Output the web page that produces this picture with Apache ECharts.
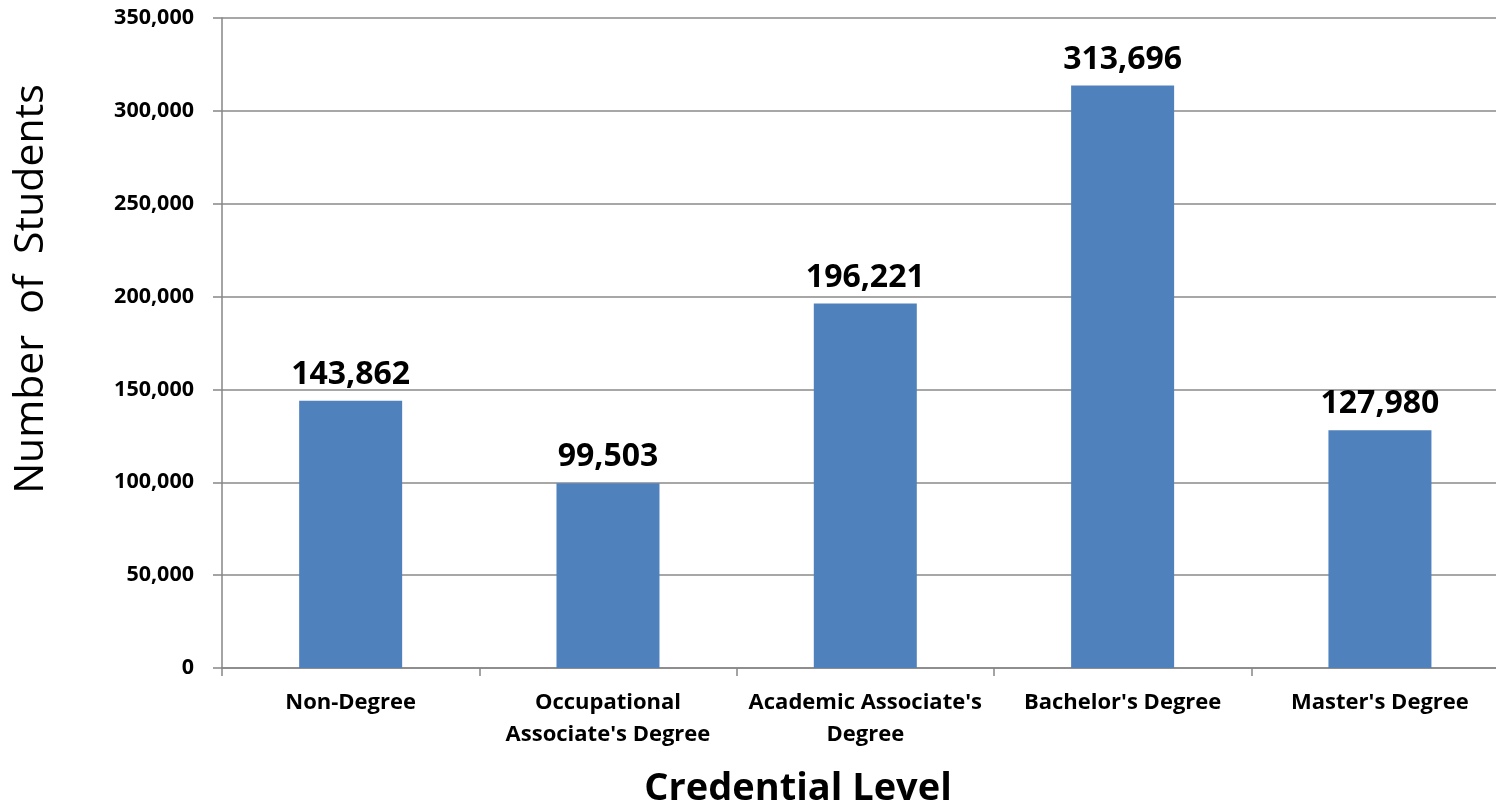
<!DOCTYPE html>
<html>
<head>
<meta charset="utf-8">
<title>Number of Students by Credential Level</title>
<script src="https://cdn.jsdelivr.net/npm/echarts@6/dist/echarts.min.js"></script>
<style>
  html, body { margin: 0; padding: 0; background: #ffffff; }
  #chart { width: 1496px; height: 807px; }
</style>
</head>
<body>
<div id="chart"></div>
<script>
// Credential levels along the x axis
const categories = [
  'Non-Degree',
  'Occupational\nAssociate\'s Degree',
  'Academic Associate\'s\nDegree',
  'Bachelor\'s Degree',
  'Master\'s Degree'
];

// Students per credential level
const students = [143862, 99503, 196221, 313696, 127980];

// Value axis range
const yMin = 0;
const yMax = 350000;
const yStep = 50000;

const FONT = '"Open Sans", "Noto Sans", sans-serif';
const fmt = v => Number(v).toLocaleString('en-US');

const chart = echarts.init(document.getElementById('chart'), null, { renderer: 'canvas' });

chart.setOption({
  backgroundColor: '#ffffff',
  animation: false,
  textStyle: { fontFamily: FONT, color: '#000000' },
  grid: {
    left: 222,
    top: 18,
    bottom: 139,
    right: -12.6,
    containLabel: false,
    outerBoundsMode: 'none'
  },
  xAxis: {
    type: 'category',
    data: categories,
    boundaryGap: true,
    axisLine: { show: true, lineStyle: { color: '#868686', width: 1.5 } },
    axisTick: { show: true, length: 8, alignWithLabel: false, lineStyle: { color: '#868686', width: 1.5 } },
    axisLabel: {
      interval: 0,
      margin: 19,
      fontFamily: FONT,
      fontWeight: 'bold',
      fontSize: 22,
      lineHeight: 32,
      color: '#000000',
      align: 'center'
    },
    splitLine: { show: false }
  },
  yAxis: {
    type: 'value',
    min: yMin,
    max: yMax,
    interval: yStep,
    axisLine: { show: true, lineStyle: { color: '#868686', width: 1.5 } },
    axisTick: { show: true, length: 9, lineStyle: { color: '#868686', width: 1.5 } },
    axisLabel: {
      margin: 28,
      fontFamily: FONT,
      fontWeight: 'bold',
      fontSize: 21.5,
      color: '#000000',
      formatter: fmt
    },
    splitLine: { show: true, lineStyle: { color: '#8a8a8a', width: 1.5 } }
  },
  series: [{
    type: 'bar',
    data: students,
    barWidth: 103,
    itemStyle: { color: '#4F81BD' },
    label: {
      show: true,
      position: 'top',
      distance: 10,
      fontFamily: FONT,
      fontWeight: 'bold',
      fontSize: 32,
      color: '#000000',
      formatter: p => fmt(p.value)
    }
  }],
  graphic: [
    {
      type: 'text',
      x: 31,
      y: 289,
      rotation: Math.PI / 2,
      style: {
        text: 'Number  of  Students',
        font: '41px ' + FONT,
        fill: '#000000',
        align: 'center',
        verticalAlign: 'middle'
      }
    },
    {
      type: 'text',
      x: 798,
      y: 789,
      style: {
        text: 'Credential Level',
        font: 'bold 38px ' + FONT,
        fill: '#000000',
        align: 'center',
        verticalAlign: 'middle'
      }
    }
  ]
});
</script>
</body>
</html>
